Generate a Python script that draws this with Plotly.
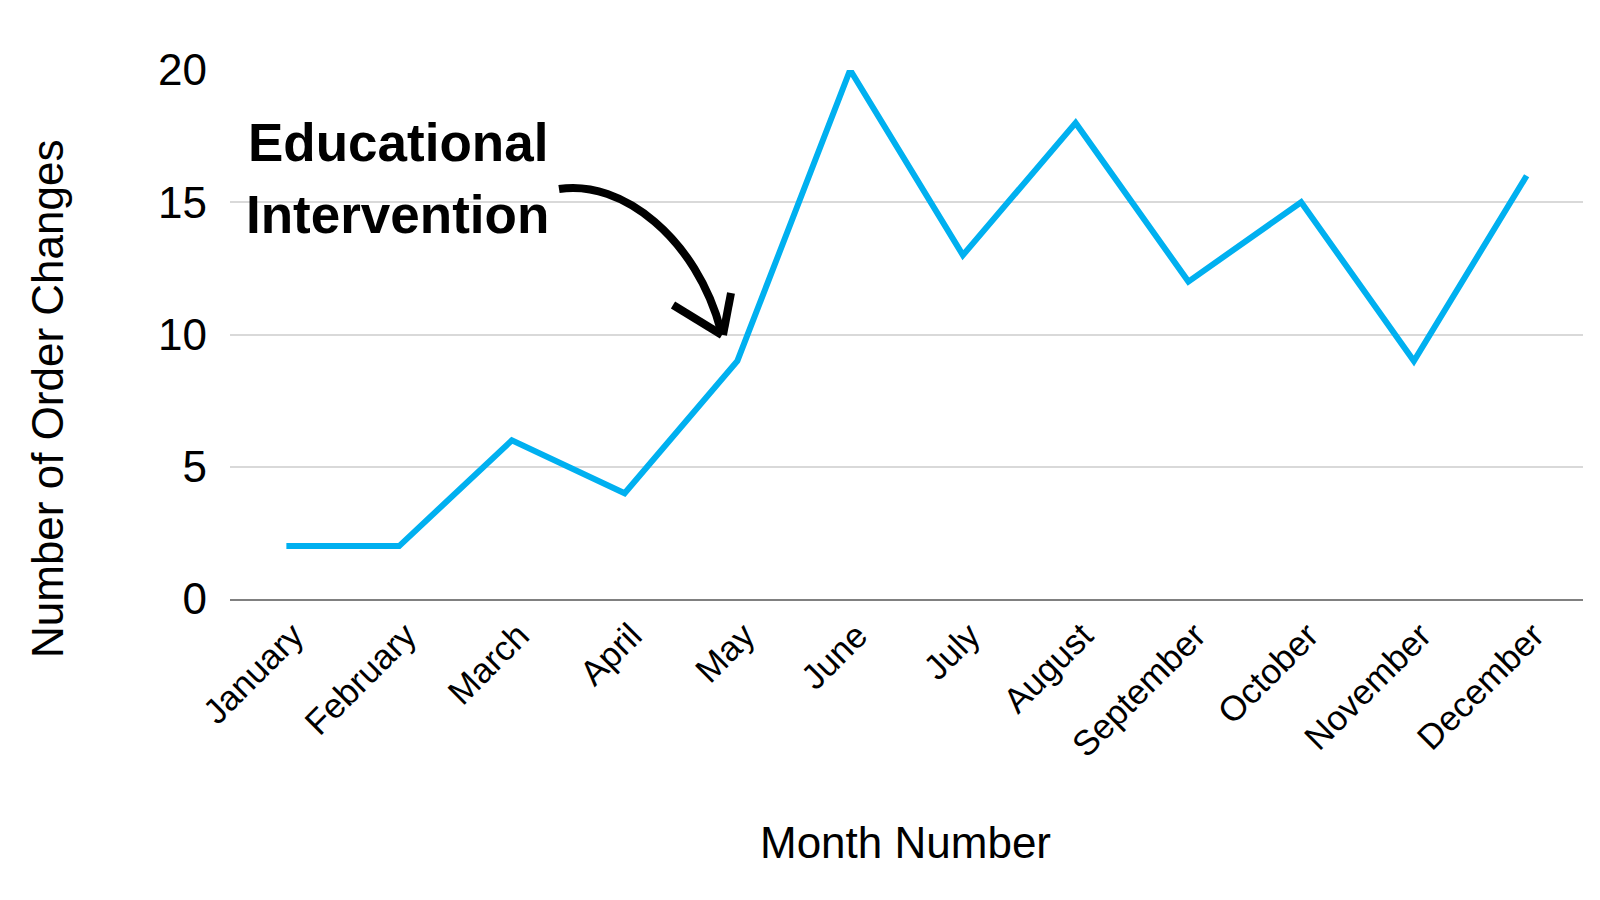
import plotly.graph_objects as go

months = ["January", "February", "March", "April", "May", "June",
          "July", "August", "September", "October", "November", "December"]
order_changes = [2, 2, 6, 4, 9, 20, 13, 18, 12, 15, 9, 16]
y_ticks = [0, 5, 10, 15, 20]

W, H = 1600, 900
L, R, T, B = 222, 25, 62, 309
PW, PH = W - L - R, H - T - B
DX, DY = -8, -7


def px(x):
    return (x + DX - L) / PW


def py(y):
    return (H - B - (y + DY)) / PH


def path(cmds):
    out = []
    for c in cmds:
        if isinstance(c, str):
            out.append(c)
        else:
            out.append(f"{px(c[0]):.5f},{py(c[1]):.5f}")
    return " ".join(out)


fig = go.Figure()
fig.add_trace(go.Scatter(
    x=months, y=order_changes, mode="lines",
    line=dict(color="#00B0F0", width=6),
    hoverinfo="x+y", showlegend=False,
))

arrow_curve = path(["M", (559, 188), "C", (622, 178), (697, 238), (721, 330)])
barb_left = path(["M", (673, 304), "L", (722, 334)])
barb_right = path(["M", (731, 292), "L", (723, 334)])

shapes = []
for p in (arrow_curve, barb_left, barb_right):
    shapes.append(dict(type="path", path=p, xref="paper", yref="paper",
                       line=dict(color="black", width=8), layer="above"))

annotations = [
    dict(text="<b>Educational</b>", x=px(246), y=py(141), xref="paper", yref="paper",
         xanchor="left", yanchor="middle", showarrow=False,
         font=dict(family="Liberation Sans, Arial", size=53, color="black")),
    dict(text="<b>Intervention</b>", x=px(244), y=py(214), xref="paper", yref="paper",
         xanchor="left", yanchor="middle", showarrow=False,
         font=dict(family="Liberation Sans, Arial", size=53, color="black")),
    dict(text="Number of Order Changes", x=px(48), y=py(398), xref="paper", yref="paper",
         xanchor="center", yanchor="middle", textangle=-90, showarrow=False,
         font=dict(family="Liberation Sans, Arial", size=44, color="black")),
    dict(text="Month Number", x=px(905), y=py(841), xref="paper", yref="paper",
         xanchor="center", yanchor="middle", showarrow=False,
         font=dict(family="Liberation Sans, Arial", size=44, color="black")),
]

fig.update_layout(
    width=W, height=H,
    margin=dict(l=L, r=R, t=T, b=B, autoexpand=False),
    paper_bgcolor="white", plot_bgcolor="white",
    font=dict(family="Liberation Sans, Arial", color="black"),
    shapes=shapes, annotations=annotations,
    xaxis=dict(
        type="category", range=[-0.5, len(months) - 0.5],
        tickangle=-45, tickfont=dict(size=35),
        showgrid=False, showline=True, linecolor="#808080", linewidth=2,
        ticks="", ticklabelstandoff=0, ticklabelshift=7,
    ),
    yaxis=dict(
        range=[0, 20], tickvals=y_ticks, tickfont=dict(size=44),
        showgrid=True, gridcolor="#d9d9d9", gridwidth=2,
        zeroline=False, showline=False, ticks="", ticklabelstandoff=22,
    ),
)

fig.write_html("out.html")
